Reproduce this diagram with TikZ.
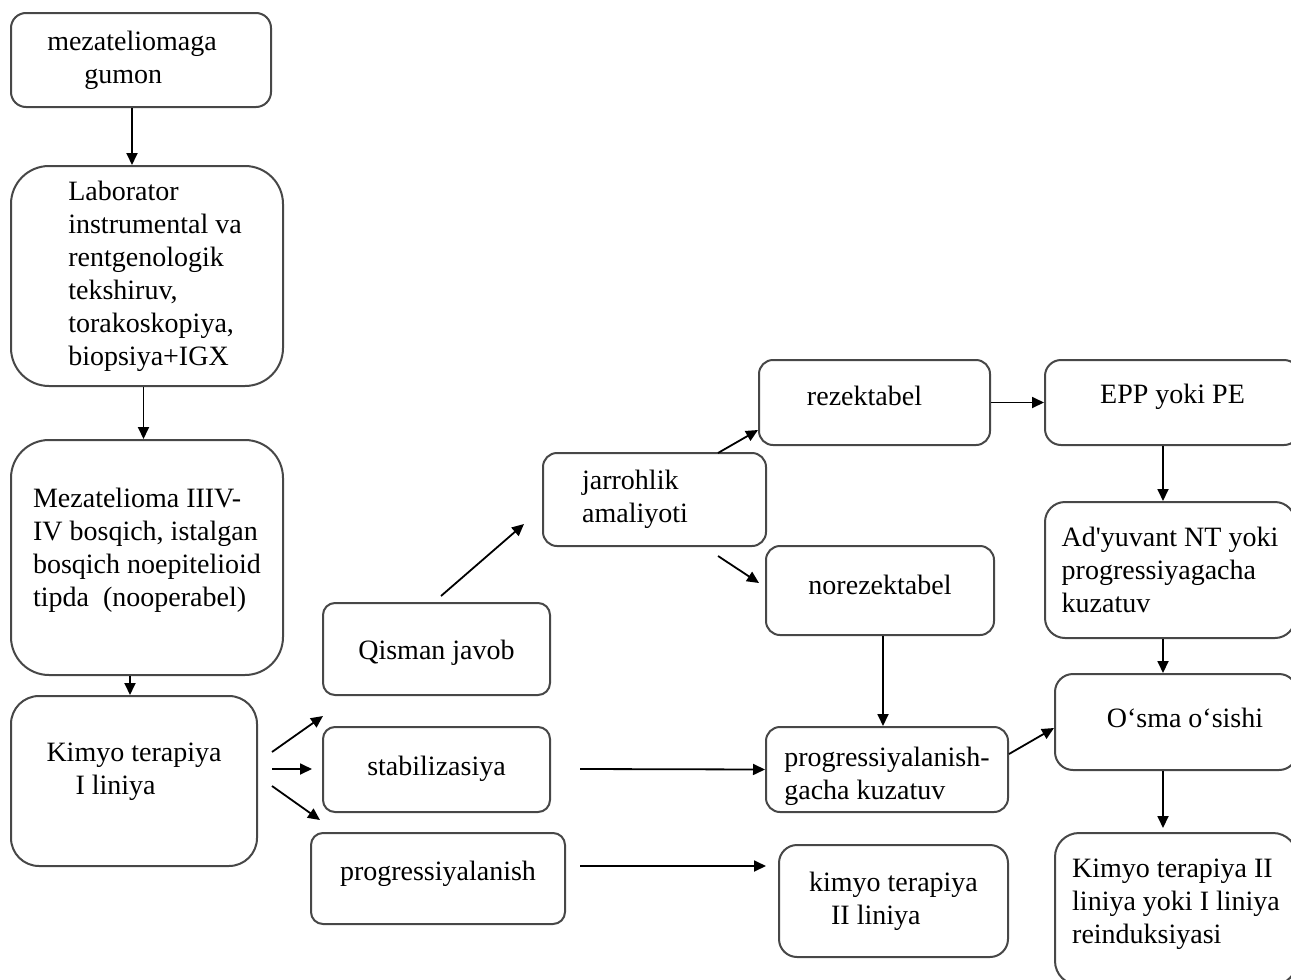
\documentclass[tikz,border=0pt]{standalone}
\usepackage{fontspec}
\newfontfamily\rawserif{Liberation Serif}
\usetikzlibrary{arrows.meta}
\begin{document}
\begin{tikzpicture}[x=0.5pt,y=-0.5pt,
  box/.style={draw=black!72, line width=1pt, rounded corners=7.5pt, inner sep=0pt,
    font=\rawserif\fontsize{14}{16.5}\selectfont},
  arr/.style={-{Triangle[length=6pt,width=5.5pt]}, line width=0.9pt, black}]
\useasboundingbox (0,0) rectangle (1291,980);
\clip (0,0) rectangle (1291,980);

% left column
\node[box, minimum width=130pt, minimum height=47pt, align=left] (A) at (141,60)
  {mezateliomaga\rule{9pt}{0pt}\\\hspace*{18.5pt}gumon};
\node[box, minimum width=136pt, minimum height=110pt, rounded corners=19pt, align=left] (B) at (147,276)
  {\hspace*{8pt}Laborator\\\hspace*{8pt}instrumental va\\\hspace*{8pt}rentgenologik\\\hspace*{8pt}tekshiruv,\\\hspace*{8pt}torakoskopiya,\\\hspace*{8pt}biopsiya+IGX};
\node[box, minimum width=136pt, minimum height=117.5pt, rounded corners=19pt, align=left] (C) at (147,557.5)
  {Mezatelioma IIIV-\\IV bosqich, istalgan\\bosqich noepitelioid\\tipda\ \ (nooperabel)\\[-6pt]};
\node[box, minimum width=123pt, minimum height=85pt, rounded corners=14pt, align=left] (D) at (134,781)
  {Kimyo terapiya\\\hspace*{14.5pt}I liniya\\[-4pt]};

% second column
\node[box, minimum width=113.5pt, minimum height=46pt, rounded corners=6pt,
  text height=12pt, text depth=2pt] (E) at (436.5,649) {Qisman javob};
\node[box, minimum width=113.5pt, minimum height=42.5pt, rounded corners=6pt,
  text height=9pt, text depth=3.5pt] (F) at (436.5,769.5) {stabilizasiya};
\node[box, minimum width=127pt, minimum height=45.5pt, rounded corners=6pt,
  text height=8pt, text depth=6.5pt] (G) at (438,878.5) {progressiyalanish};

% third column
\node[box, minimum width=111.5pt, minimum height=46.5pt, rounded corners=7pt, align=left] (H) at (654.5,499.5)
  {jarrohlik\\amaliyoti\rule{19.5pt}{0pt}};
\node[box, minimum width=115.5pt, minimum height=42.5pt, rounded corners=7pt,
  text height=8.5pt, text depth=6pt] (I) at (874.5,402.5)
  {rezektabel\rule{10pt}{0pt}};
\node[box, minimum width=114pt, minimum height=44.5pt, rounded corners=7pt,
  text height=9pt, text depth=5.5pt] (J) at (880,590.5)
  {norezektabel};
\node[box, minimum width=121pt, minimum height=42.5pt, rounded corners=7pt, align=left] (K) at (887,769.5)
  {\rule{0pt}{16.5pt}progressiyalanish-\\gacha kuzatuv};
\node[box, minimum width=114.5pt, minimum height=56pt, rounded corners=9pt, align=left] (L) at (893.5,901)
  {kimyo terapiya\\\hspace*{11pt}II liniya};

% right column
\node[box, minimum width=127.5pt, minimum height=42.5pt, rounded corners=8pt,
  text height=8pt, text depth=7.5pt] (M) at (1172.5,402.5)
  {EPP yoki PE};
\node[box, minimum width=125pt, minimum height=68pt, rounded corners=10pt, align=left] (N) at (1170,570)
  {Ad'yuvant NT yoki\\progressiyagacha\\kuzatuv};
\node[box, minimum width=121pt, minimum height=48pt, rounded corners=9pt,
  text height=9pt, text depth=4pt] (O) at (1176,722)
  {\rule{9pt}{0pt}O‘sma o‘sishi};
\node[box, minimum width=121pt, minimum height=76pt, rounded corners=12pt, align=left] (P) at (1176,909)
  {Kimyo terapiya II\\liniya yoki I liniya\\reinduksiyasi\\[-9pt]};

% free ends
\coordinate (d1) at (272,752);  \coordinate (e1) at (323,716);
\coordinate (d2) at (272,769);  \coordinate (f1) at (312,769);
\coordinate (d3) at (272,786);  \coordinate (g1) at (320,820);
\coordinate (q1) at (441,596);  \coordinate (h1) at (524,524);
\coordinate (h2) at (718,453);
\coordinate (h3) at (718,556);  \coordinate (j1) at (759,583);
\coordinate (s1) at (580,769);
\coordinate (p2) at (580,866);  \coordinate (l1) at (766,866);
\coordinate (o1) at (1163,828);

% connectors
\draw[arr] ([xshift=-4.5pt]A.south) -- ([xshift=-7.5pt]B.north);
\draw[arr] ([xshift=-1.75pt]B.south) -- ([xshift=-1.75pt]C.north);
\draw[arr] ([xshift=-8.5pt]C.south) -- ([xshift=-2pt]D.north);
\draw[arr] (d1) -- (e1);
\draw[arr] (d2) -- (f1);
\draw[arr] (d3) -- (g1);
\draw[arr] (q1) -- (h1);
\draw[arr] (h2) -- ([yshift=-13.75pt]I.west);
\draw[arr] (h3) -- (j1);
\draw[arr] (I.east) -- (M.west);
\draw[arr] (s1) -- (K.west);
\draw[arr] (p2) -- (l1);
\draw[arr] ([xshift=1.5pt]J.south) -- ([xshift=-2pt]K.north);
\draw[arr] ([xshift=-4.75pt]M.south) -- ([xshift=-3.5pt]N.north);
\draw[arr] ([xshift=-3.5pt]N.south) -- ([xshift=-6.5pt]O.north);
\draw[arr] ([yshift=7.75pt]K.east) -- ([yshift=-3pt]O.west);
\draw[arr] ([xshift=-6.5pt]O.south) -- (o1);
\end{tikzpicture}
\end{document}
